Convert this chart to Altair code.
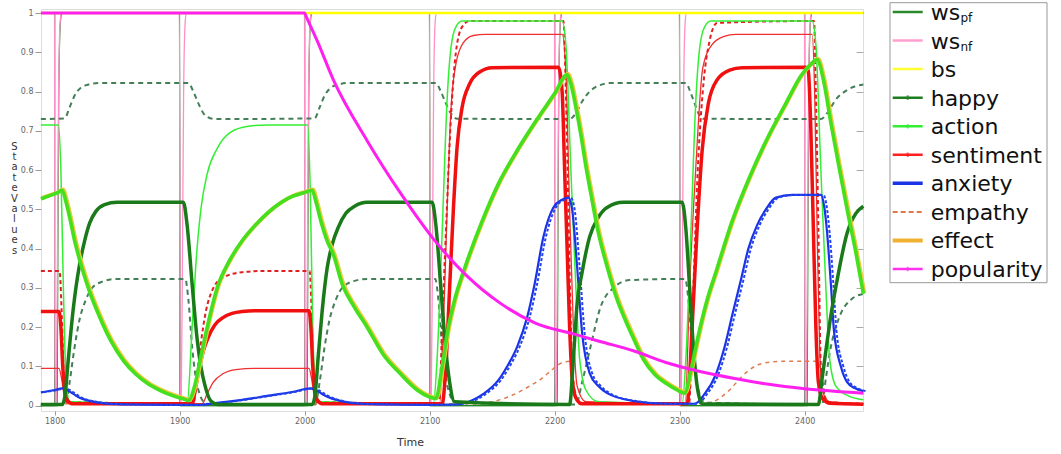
import altair as alt
import pandas as pd

# ---------------- data ----------------
x_ticks = [1800, 1900, 2000, 2100, 2200, 2300, 2400]
y_ticks = [0, 0.1, 0.2, 0.3, 0.4, 0.5, 0.6, 0.7, 0.8, 0.9, 1.0]
right_ticks = [0.1, 0.2, 0.3, 0.4, 0.5, 0.6, 0.7, 0.8, 0.9]

wspf_t = [1789, 1800, 1800.2, 1900, 1900.2, 2000, 2000.2, 2100, 2100.2, 2200, 2200.2, 2300, 2300.2, 2400, 2400.2, 2447]
wspf_v = [0, 0, 1, 1, 0, 0, 1, 1, 0, 0, 1, 1, 0, 0, 1, 1]

ss_t = [1789, 1802.0, 1802.6, 1803.2, 1804.0, 1805.0, 1806.0, 1899.9, 1900.3,
        2002.0, 2002.6, 2003.2, 2004.0, 2005.0, 2006.0, 2099.9, 2100.3,
        2202.0, 2202.6, 2203.2, 2204.0, 2205.0, 2206.0, 2299.9, 2300.3,
        2402.0, 2402.6, 2403.2, 2404.0, 2405.0, 2406.0, 2447]
ss_v = [0, 0, 0.4, 0.75, 0.93, 0.99, 1, 1, 0,
        0, 0.4, 0.75, 0.93, 0.99, 1, 1, 0,
        0, 0.4, 0.75, 0.93, 0.99, 1, 1, 0,
        0, 0.4, 0.75, 0.93, 0.99, 1, 1]

wsnf_t = [1789,
          1799.9, 1800.4, 1801.3, 1802.2, 1803.2, 1804.5, 1805.5,
          1899.9, 1900.4, 1901.3, 1902.2, 1903.2, 1904.5, 1905.5,
          1999.9, 2000.4, 2001.3, 2002.2, 2003.2, 2004.5, 2005.5,
          2099.9, 2100.4, 2101.3, 2102.2, 2103.2, 2104.5, 2105.5,
          2199.9, 2200.4, 2201.3, 2202.2, 2203.2, 2204.5, 2205.5,
          2299.9, 2300.4, 2301.3, 2302.2, 2303.2, 2304.5, 2305.5,
          2399.9, 2400.4, 2401.3, 2402.2, 2403.2, 2404.5, 2405.5,
          2447]
wsnf_v = [1,
          1, 0, 0.02, 0.35, 0.8, 0.98, 1,
          1, 0, 0.02, 0.35, 0.8, 0.98, 1,
          1, 0, 0.02, 0.35, 0.8, 0.98, 1,
          1, 0, 0.02, 0.35, 0.8, 0.98, 1,
          1, 0, 0.02, 0.35, 0.8, 0.98, 1,
          1, 0, 0.02, 0.35, 0.8, 0.98, 1,
          1, 0, 0.02, 0.35, 0.8, 0.98, 1,
          1]

bs_t = [1789, 2447]
bs_v = [1, 1]

happy_t = [1789, 1806, 1808, 1811, 1814, 1817, 1820, 1824, 1828, 1833, 1840, 1850,
           1903, 1906, 1910, 1914, 1917, 1920, 1925, 1931,
           2006, 2008, 2011, 2014, 2018, 2022, 2027, 2033, 2040, 2050,
           2102, 2105, 2109, 2113, 2116, 2120,
           2212, 2215, 2218, 2222, 2228, 2235, 2242, 2255,
           2302, 2305, 2308, 2311, 2314, 2318,
           2411, 2414, 2417, 2421, 2426, 2434, 2441, 2447]
happy_v = [0.003, 0.003, 0.02, 0.12, 0.22, 0.3, 0.36, 0.42, 0.465, 0.495, 0.512, 0.518,
           0.518, 0.46, 0.31, 0.17, 0.1, 0.055, 0.012, 0.003,
           0.003, 0.02, 0.13, 0.24, 0.35, 0.41, 0.455, 0.49, 0.508, 0.518,
           0.518, 0.46, 0.3, 0.14, 0.06, 0.01,
           0.003, 0.12, 0.26, 0.34, 0.43, 0.48, 0.505, 0.518,
           0.518, 0.45, 0.3, 0.15, 0.05, 0.005,
           0.003, 0.07, 0.14, 0.23, 0.32, 0.44, 0.49, 0.508]

action_t = [1789, 1796, 1802, 1806, 1809, 1812, 1816, 1821, 1828, 1836, 1845, 1855, 1865, 1875,
            1885, 1895, 1903, 1907, 1912, 1916, 1920, 1925, 1930, 1940, 1950, 1960, 1970, 1980,
            1990, 2000, 2006, 2009, 2013, 2018, 2023, 2030, 2040, 2050, 2063, 2077, 2090, 2100,
            2105, 2110, 2115, 2120, 2128, 2142, 2155, 2170, 2185, 2200, 2210, 2213, 2217, 2221,
            2225, 2229, 2235, 2242, 2250, 2256, 2264, 2271, 2280, 2290, 2298, 2304, 2309, 2315,
            2322, 2329, 2342, 2355, 2370, 2385, 2397, 2405, 2410, 2415, 2421, 2428, 2434, 2441, 2447]
action_v = [0.527, 0.535, 0.542, 0.549, 0.52, 0.48, 0.42, 0.36, 0.29, 0.226, 0.165, 0.115, 0.08, 0.055,
            0.038, 0.025, 0.017, 0.013, 0.05, 0.11, 0.17, 0.24, 0.3, 0.37, 0.42, 0.458, 0.49, 0.515,
            0.533, 0.543, 0.549, 0.52, 0.47, 0.42, 0.385, 0.31, 0.25, 0.2, 0.13, 0.08, 0.04, 0.022,
            0.018, 0.1, 0.2, 0.27, 0.35, 0.47, 0.565, 0.65, 0.725, 0.795, 0.843, 0.82, 0.76, 0.69,
            0.61, 0.54, 0.44, 0.354, 0.27, 0.222, 0.165, 0.118, 0.08, 0.055, 0.04, 0.032, 0.09, 0.18,
            0.27, 0.34, 0.47, 0.575, 0.68, 0.77, 0.84, 0.87, 0.882, 0.83, 0.72, 0.6, 0.5, 0.39, 0.285]

action2_t = [1789, 1803, 1805, 1807, 1809, 1812,
             1906, 1910, 1913, 1917, 1922, 1930, 1940, 1955, 1970,
             2002.5, 2004.5, 2006.5, 2009, 2012,
             2103, 2106, 2110, 2114, 2117, 2121, 2126,
             2206, 2209, 2213, 2217, 2220, 2225, 2235,
             2302, 2305, 2309, 2313, 2316, 2320, 2325,
             2406, 2409, 2413, 2417, 2420, 2425, 2435, 2447]
action2_v = [0.715, 0.715, 0.6, 0.3, 0.08, 0.01,
             0.005, 0.2, 0.36, 0.5, 0.59, 0.655, 0.695, 0.712, 0.715,
             0.715, 0.55, 0.2, 0.04, 0.01,
             0.005, 0.12, 0.44, 0.78, 0.91, 0.965, 0.98,
             0.98, 0.92, 0.6, 0.3, 0.12, 0.04, 0.01,
             0.005, 0.12, 0.44, 0.78, 0.91, 0.965, 0.98,
             0.98, 0.92, 0.6, 0.3, 0.12, 0.05, 0.025, 0.015]

sent_t = [1789, 1803.5, 1805, 1806.5, 1808, 1810, 1814,
          1910, 1913, 1916, 1919, 1923, 1928, 1935, 1942, 1950, 1960,
          2003.5, 2005, 2006.5, 2008, 2010, 2014,
          2110, 2113, 2116, 2119, 2122, 2126, 2132, 2140, 2150,
          2203, 2206, 2208, 2210, 2212, 2214, 2217, 2222,
          2306, 2310, 2314, 2318, 2323, 2330, 2340, 2350,
          2401, 2403, 2405, 2407, 2409, 2411, 2414, 2420, 2447]
sent_v = [0.24, 0.24, 0.2, 0.1, 0.04, 0.015, 0.005,
          0.005, 0.05, 0.1, 0.14, 0.175, 0.205, 0.225, 0.235, 0.24, 0.242,
          0.242, 0.2, 0.1, 0.04, 0.015, 0.005,
          0.005, 0.1, 0.3, 0.5, 0.66, 0.76, 0.82, 0.85, 0.861,
          0.862, 0.8, 0.6, 0.4, 0.2, 0.07, 0.02, 0.005,
          0.005, 0.2, 0.45, 0.65, 0.77, 0.83, 0.855, 0.861,
          0.862, 0.85, 0.7, 0.45, 0.2, 0.06, 0.02, 0.006, 0.004]

sent2_t = [1789, 1803.5, 1805.5, 1807.5, 1810,
           1918, 1922, 1927, 1935, 1945, 1960,
           2003.5, 2005.5, 2007.5, 2010,
           2108, 2111, 2114, 2117, 2121, 2127, 2135, 2145,
           2206, 2209, 2212, 2215, 2218, 2225,
           2304.5, 2308, 2313, 2318.5, 2326, 2335, 2345,
           2406, 2408, 2410, 2412, 2414, 2420, 2447]
sent2_v = [0.095, 0.095, 0.07, 0.03, 0.008,
           0.005, 0.03, 0.06, 0.082, 0.092, 0.095,
           0.095, 0.07, 0.03, 0.008,
           0.005, 0.2, 0.5, 0.75, 0.87, 0.925, 0.943, 0.946,
           0.946, 0.85, 0.5, 0.2, 0.05, 0.01,
           0.005, 0.3, 0.61, 0.86, 0.92, 0.94, 0.946,
           0.946, 0.8, 0.45, 0.15, 0.04, 0.01, 0.005]

sent3_t = [1789, 1804, 1805.5, 1807, 1809,
           1911, 1914, 1917, 1921, 1927, 1935, 1950, 1965,
           2004, 2005.5, 2007, 2009,
           2107.5, 2110, 2113, 2117, 2121, 2126, 2132,
           2207, 2209, 2211, 2213, 2215, 2220,
           2307.5, 2311, 2314.5, 2318.5, 2324, 2330,
           2407.5, 2409, 2411, 2413, 2418, 2447]
sent3_v = [0.343, 0.343, 0.25, 0.1, 0.01,
           0.005, 0.08, 0.16, 0.24, 0.3, 0.327, 0.34, 0.343,
           0.343, 0.25, 0.1, 0.01,
           0.005, 0.2, 0.44, 0.73, 0.9, 0.965, 0.98,
           0.98, 0.8, 0.5, 0.2, 0.04, 0.005,
           0.005, 0.3, 0.6, 0.8, 0.93, 0.975,
           0.98, 0.8, 0.45, 0.1, 0.01, 0.005]

anx_t = [1789, 1800, 1806, 1810, 1815, 1820, 1827, 1840, 1860, 1900,
         1915, 1930, 1950, 1970, 1990, 2005, 2010, 2015, 2022, 2030, 2045, 2070, 2100,
         2120, 2135, 2143, 2155, 2162, 2170, 2178, 2184, 2191, 2199, 2206, 2211,
         2214, 2218, 2222, 2228, 2235, 2242, 2263, 2290,
         2312, 2320, 2329, 2336, 2342, 2349, 2355, 2362, 2369, 2377, 2390, 2413,
         2416, 2418, 2421, 2423.5, 2429, 2434, 2440, 2447]
anx_v = [0.034, 0.04, 0.044, 0.04, 0.03, 0.02, 0.013, 0.006, 0.003, 0.002,
         0.002, 0.007, 0.015, 0.025, 0.035, 0.044, 0.038, 0.028, 0.018, 0.011, 0.005, 0.003, 0.002,
         0.003, 0.015, 0.03, 0.065, 0.1, 0.15, 0.225, 0.31, 0.43, 0.505, 0.525, 0.53,
         0.5, 0.354, 0.185, 0.083, 0.05, 0.032, 0.012, 0.005,
         0.005, 0.03, 0.08, 0.15, 0.23, 0.32, 0.4, 0.46, 0.5, 0.53, 0.537, 0.537,
         0.5, 0.44, 0.31, 0.19, 0.1, 0.06, 0.045, 0.037]

emp_t = [1789, 2140, 2150, 2165, 2180, 2190, 2198, 2205, 2212, 2214, 2217, 2220,
         2320, 2330, 2340, 2350, 2360, 2370, 2380, 2410, 2413, 2416, 2420, 2447]
emp_v = [0.005, 0.005, 0.01, 0.025, 0.05, 0.07, 0.092, 0.108, 0.113, 0.09, 0.03, 0.005,
         0.005, 0.015, 0.04, 0.075, 0.1, 0.11, 0.113, 0.113, 0.09, 0.03, 0.005, 0.005]

dashu_t = [1789, 1808, 1812, 1816, 1821, 1827, 1835,
           1907, 1911, 1915, 1919, 1924, 1930,
           2008, 2012, 2016, 2021, 2027, 2035,
           2105, 2109, 2113, 2117, 2122,
           2212, 2217, 2222, 2228, 2235, 2245,
           2305, 2308.5, 2312, 2315, 2319,
           2413, 2418, 2425, 2432, 2440, 2447]
dashu_v = [0.73, 0.732, 0.76, 0.79, 0.81, 0.818, 0.822,
           0.822, 0.8, 0.77, 0.745, 0.733, 0.73,
           0.732, 0.76, 0.79, 0.81, 0.818, 0.822,
           0.822, 0.8, 0.77, 0.745, 0.731,
           0.73, 0.745, 0.775, 0.8, 0.815, 0.822,
           0.822, 0.8, 0.77, 0.745, 0.731,
           0.73, 0.745, 0.78, 0.8, 0.813, 0.818]

dashl_t = [1789, 1809, 1812, 1816, 1820, 1825, 1830, 1840, 1850,
           1904.5, 1907, 1910, 1913, 1916, 1920, 1925,
           2008.5, 2012, 2016, 2020, 2025, 2030, 2040, 2050,
           2104.5, 2107, 2110, 2113, 2116, 2120,
           2217, 2222, 2228.7, 2236.6, 2247, 2260,
           2304.5, 2307, 2310, 2313, 2316, 2320,
           2414, 2417, 2421, 2425, 2429, 2437, 2447]
dashl_v = [0.003, 0.003, 0.06, 0.15, 0.22, 0.27, 0.3, 0.318, 0.323,
           0.323, 0.27, 0.15, 0.07, 0.03, 0.008, 0.003,
           0.003, 0.06, 0.15, 0.22, 0.27, 0.3, 0.318, 0.323,
           0.323, 0.27, 0.15, 0.07, 0.03, 0.008,
           0.003, 0.06, 0.15, 0.25, 0.3, 0.32,
           0.323, 0.27, 0.15, 0.07, 0.03, 0.008,
           0.003, 0.07, 0.15, 0.2, 0.235, 0.27, 0.285]

pop_t = [1789, 2000, 2001, 2010, 2023, 2050, 2077, 2103, 2130, 2157, 2185, 2215, 2237,
         2263, 2289, 2300, 2343, 2370, 2400, 2447]
pop_v = [1, 1, 0.993, 0.93, 0.83, 0.675, 0.54, 0.425, 0.33, 0.26, 0.21, 0.183, 0.163,
         0.14, 0.11, 0.1, 0.07, 0.055, 0.043, 0.032]

legend_names = ["ws", "ws", "bs", "happy", "action", "sentiment", "anxiety", "empathy", "effect", "popularity"]
legend_subs = ["pf", "nf", "", "", "", "", "", "", "", ""]
legend_colors = ["#2a8a2a", "#ff9fcf", "#ffff33", "#1e7d1e", "#33ee33", "#ff2020",
                 "#1a33e6", "#e0784a", "#f0b030", "#ff33ee"]
legend_widths = [2.5, 2.5, 2.5, 2.5, 2.5, 2.5, 3.5, 2, 4, 2.5]
legend_dash = ["solid", "solid", "solid", "solid", "solid", "solid", "solid", "dash", "solid", "solid"]
legend_marker = [False, False, False, True, True, True, False, False, False, True]

# ---------------- chart ----------------
X_DOM = [1789.1, 2446.7]
Y_DOM = [-0.0135, 1.0105]

xaxis = alt.Axis(values=x_ticks, format="d", labelFontSize=8, labelColor="#666",
                 labelFont="DejaVu Sans", tickColor="#999", tickSize=4, labelPadding=2,
                 domain=False, grid=False, title="Time", titleFontSize=11,
                 titleFont="DejaVu Sans", titleFontWeight="normal", titleColor="#333",
                 titleX=369, titleY=31, titleAlign="center", titleBaseline="middle")
yaxis = alt.Axis(values=y_ticks, format=".1~f", labelFontSize=8, labelColor="#666",
                 labelFont="DejaVu Sans", tickColor="#999", tickSize=6, labelPadding=2,
                 domain=False, grid=False,
                 title=["S", "t", "a", "t", "e", " ", "V", "a", "l", "u", "e", "s"],
                 titleFontSize=10, titleFont="DejaVu Sans", titleFontWeight="normal",
                 titleColor="#333", titleAngle=0, titleX=-27, titleY=137,
                 titleAlign="center", titleBaseline="middle", titleLineHeight=10.4)

X = alt.X("t:Q", scale=alt.Scale(domain=X_DOM, nice=False, zero=False), axis=xaxis)
Y = alt.Y("v:Q", scale=alt.Scale(domain=Y_DOM, nice=False, zero=False), axis=yaxis)


def line(ts, vs, **mark):
    df = pd.DataFrame({"t": ts, "v": vs})
    mark.setdefault("interpolate", "monotone")
    return alt.Chart(df).mark_line(**mark).encode(x=X, y=Y)


layers = [
    line(wspf_t, wspf_v, interpolate="linear", color="#3d6e45", strokeWidth=1, opacity=0.9),
    line(ss_t, ss_v, color="#1f8a1f", strokeWidth=1.2),
    line(wsnf_t, wsnf_v, color="#ff8fc8", strokeWidth=1.3),
    line(bs_t, bs_v, color="#ffff00", strokeWidth=2.5),
    line(dashu_t, dashu_v, color="#457f58", strokeWidth=2, strokeDash=[5, 4]),
    line(dashl_t, dashl_v, color="#457f58", strokeWidth=2, strokeDash=[5, 4]),
    line(emp_t, emp_v, color="#e07a50", strokeWidth=1.5, strokeDash=[4, 4]),
    line(sent2_t, sent2_v, color="#f03030", strokeWidth=1.3),
    line(sent3_t, sent3_v, color="#e02020", strokeWidth=2, strokeDash=[4, 3]),
    line(action2_t, action2_v, color="#33ee33", strokeWidth=1.5),
    line(sent_t, sent_v, color="#f01010", strokeWidth=3.5),
    line(anx_t, anx_v, color="#1a33e6", strokeWidth=2.2),
    line(anx_t, anx_v, color="#2244ee", strokeWidth=2, strokeDash=[3, 2], xOffset=2.5),
    line(happy_t, happy_v, color="#1a7a1a", strokeWidth=3.5),
    line(action_t, action_v, color="#f0c838", strokeWidth=4, xOffset=1, yOffset=-0.7),
    line(action_t, action_v, color="#44e020", strokeWidth=3.6),
    line(pop_t, pop_v, color="#ff20f0", strokeWidth=3),
]
main = alt.layer(*layers)

right_axis = alt.Chart(pd.DataFrame({"v": right_ticks})).mark_point(opacity=0).encode(
    y=alt.Y("v:Q", scale=alt.Scale(domain=Y_DOM, nice=False, zero=False),
            axis=alt.Axis(orient="right", offset=-7, tickSize=7, labels=False, domain=False,
                          grid=False, title=None, values=right_ticks, tickColor="#aaa"))
)

leg_df = pd.DataFrame({
    "idx": list(range(len(legend_names))),
    "label": legend_names,
    "sub": legend_subs,
    "col": legend_colors,
    "w": legend_widths,
    "dash": legend_dash,
    "marker": legend_marker,
})
LY = alt.Y("idx:Q", scale=alt.Scale(domain=[0, 9], range=[3, 260]), axis=None)

box = alt.Chart(pd.DataFrame({"a": [0]})).mark_rect(fill="white", stroke="#999", strokeWidth=1).encode(
    x=alt.value(849), x2=alt.value(1006), y=alt.value(-6.3), y2=alt.value(273.7))
leg_lines = alt.Chart(leg_df).mark_rule().encode(
    x=alt.value(851.7), x2=alt.value(881.7), y=LY,
    color=alt.Color("col:N", scale=None),
    strokeWidth=alt.StrokeWidth("w:Q", scale=None),
    strokeDash=alt.StrokeDash("dash:N", scale=alt.Scale(domain=["solid", "dash"], range=[[1, 0], [5, 3]]), legend=None),
)
leg_marks = alt.Chart(leg_df).transform_filter("datum.marker").mark_point(
    shape="cross", filled=True, size=22).encode(
    x=alt.value(866.7), y=LY, color=alt.Color("col:N", scale=None))
leg_text = alt.Chart(leg_df).mark_text(align="left", baseline="alphabetic", dy=8,
                                       fontSize=22, font="DejaVu Sans", color="#111").encode(
    x=alt.value(889.7), y=LY, text="label:N")
leg_sub = alt.Chart(leg_df).transform_filter("datum.sub != ''").mark_text(
    align="left", baseline="alphabetic", dy=10, fontSize=12, font="DejaVu Sans", color="#111").encode(
    x=alt.value(919.5), y=LY, text="sub:N")
legend = alt.layer(box, leg_lines, leg_marks, leg_text, leg_sub)

chart = alt.layer(main, right_axis, legend).resolve_scale(y="independent").properties(
    width=822, height=402,
    autosize=alt.AutoSizeParams(type="none"),
    padding={"left": 41, "top": 9, "right": 198, "bottom": 43},
).configure_view(stroke="#aaaaaa", strokeWidth=1.5).configure(background="white")

chart.save("out.html", embed_options={"renderer": "svg", "actions": False})
